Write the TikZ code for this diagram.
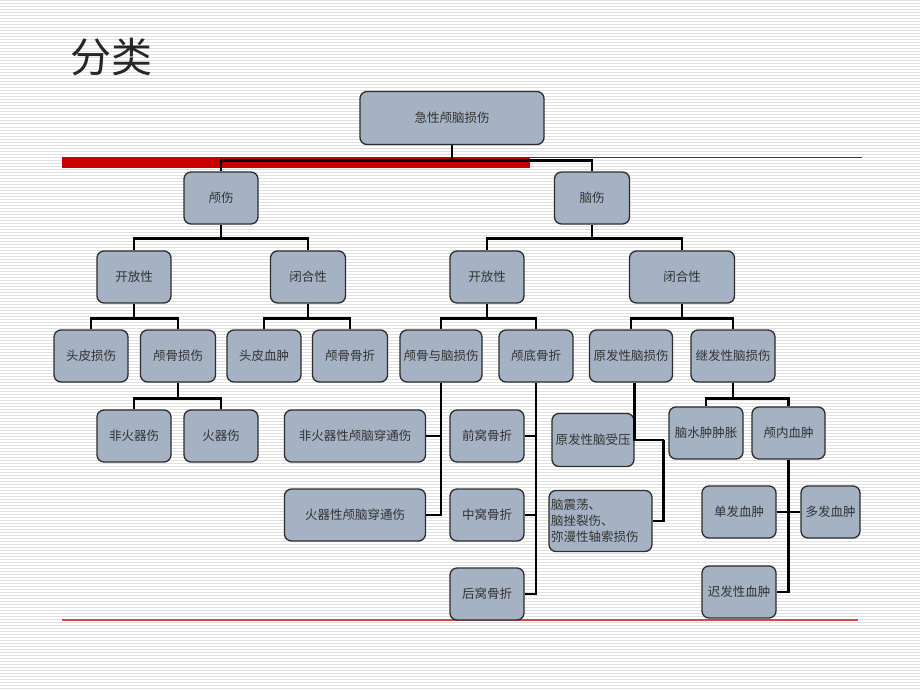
\documentclass[tikz,border=0pt]{standalone}
\usepackage{fontspec}
\newfontfamily\cjk{Noto Sans CJK SC}
\usetikzlibrary{positioning}
\definecolor{boxfill}{RGB}{164,178,196}
\definecolor{boxline}{RGB}{45,45,45}
\definecolor{slidered}{RGB}{200,0,0}
\definecolor{rulered}{RGB}{205,75,75}

\begin{document}
\begin{tikzpicture}[
  x=1pt, y=-1pt,
  box/.style={draw=boxline, line width=1.3pt, fill=boxfill, rounded corners=7pt,
    minimum width=74pt, minimum height=52pt, inner sep=1pt,
    text=black!80, font=\cjk\fontsize{12.5}{15}\selectfont},
  link/.style={line width=2.7pt, black},
  stripe/.style={line width=1pt, black!12}]

  % slide background
  \useasboundingbox (0,0) rectangle (920,690);
  \fill[white] (0,0) rectangle (920,690);
  \foreach \y in {1,4,...,689}
    \draw[stripe] (0,\y) -- (920,\y);

  \node[font=\cjk\fontsize{41}{45}\selectfont, text=black!85] (title) at (111,57) {分类};

  \fill[slidered] (62,157) rectangle (530,168);
  \draw[slidered, line width=1pt] (62,157.5) -- (862,157.5);
  \draw[rulered, line width=1.6pt] (62,620) -- (858,620);

  % level 0 and 1
  \node[box, minimum width=184pt, minimum height=53pt] (root) at (452,118) {急性颅脑损伤};
  \node[box] (lu) at (221,198) {颅伤};
  \node[box, minimum width=75pt] (ns) at (592,198) {脑伤};

  % skull branch
  \node[box] (ko1) at (134,277) {开放性};
  \node[box, minimum width=75pt] (bh1) at (308,277) {闭合性};
  \node[box] (tp) at (91,356) {头皮损伤};
  \node[box, minimum width=75pt] (lg) at (178,356) {颅骨损伤};
  \node[box] (tx) at (264,356) {头皮血肿};
  \node[box, minimum width=75pt] (gz) at (350,356) {颅骨骨折};
  \node[box] (fhq) at (134,436) {非火器伤};
  \node[box] (hq) at (221,436) {火器伤};

  % brain branch
  \node[box] (ko2) at (487,277) {开放性};
  \node[box, minimum width=105pt] (bh2) at (682,277) {闭合性};
  \node[box, minimum width=82pt] (lgn) at (441,356) {颅骨与脑损伤};
  \node[box] (ld) at (536,356) {颅底骨折};
  \node[box, minimum width=141pt] (fct) at (355,436) {非火器性颅脑穿通伤};
  \node[box, minimum width=141pt] (hct) at (355,515) {火器性颅脑穿通伤};
  \node[box] (qw) at (487,436) {前窝骨折};
  \node[box] (zw) at (487,515) {中窝骨折};
  \node[box] (hw) at (487,594) {后窝骨折};
  \node[box, minimum width=83pt] (yf) at (631,356) {原发性脑损伤};
  \node[box, minimum width=84pt] (jf) at (733,356) {继发性脑损伤};
  \node[box, minimum width=82pt, minimum height=53pt] (ys) at (593,440) {原发性脑受压};
  \node[box, minimum width=103pt, minimum height=61pt, text width=99pt, align=left,
    font=\cjk\fontsize{12.5}{16}\selectfont] (zd) at (600.5,521) {脑震荡、\\脑挫裂伤、\\弥漫性轴索损伤};
  \node[box] (ssz) at (706,433) {脑水肿肿胀};
  \node[box, minimum width=73pt] (xz) at (788.5,433) {颅内血肿};
  \node[box] (df) at (739,512) {单发血肿};
  \node[box, minimum width=59pt] (dd) at (830.5,512) {多发血肿};
  \node[box] (cf) at (739,592) {迟发性血肿};

  % connectors
  \draw[link] (root.south) -- ++(0,15.5) coordinate (b0);
  \draw[link] (lu.north) |- (b0) -| (ns.north);
  \draw[link] (lu.south) -- ++(0,14) coordinate (b1);
  \draw[link] (ko1.north) |- (b1) -| (bh1.north);
  \draw[link] (ko1.south) -- ++(0,15) coordinate (b2);
  \draw[link] (tp.north) |- (b2) -| (lg.north);
  \draw[link] (bh1.south) -- ++(0,15) coordinate (b3);
  \draw[link] (tx.north) |- (b3) -| (gz.north);
  \draw[link] (lg.south) -- ++(0,16) coordinate (b4);
  \draw[link] (fhq.north) |- (b4) -| (hq.north);

  \draw[link] (ns.south) -- ++(0,14) coordinate (b5);
  \draw[link] (ko2.north) |- (b5) -| (bh2.north);
  \draw[link] (ko2.south) -- ++(0,15) coordinate (b6);
  \draw[link] (lgn.north) |- (b6) -| (ld.north);
  \draw[link] (bh2.south) -- ++(0,15) coordinate (b7);
  \draw[link] (yf.north) |- (b7) -| (jf.north);
  \draw[link] (jf.south) -- ++(0,16) coordinate (b8);
  \draw[link] (ssz.north) |- (b8) -| (xz.north);

  \draw[link] (lgn.south) |- (hct.east);
  \draw[link] (fct.east) -- (fct.east -| lgn.south);
  \draw[link] (ld.south) |- (hw.east);
  \draw[link] (qw.east) -- (qw.east -| ld.south);
  \draw[link] (zw.east) -- (zw.east -| ld.south);
  \draw[link] (ys.east |- yf.south) -- (ys.east) -- ++(29,0) coordinate (b9);
  \draw[link] (b9) |- (zd.east);
  \draw[link] (xz.south) |- (cf.east);
  \draw[link] (df.east) -- (dd.west);
\end{tikzpicture}
\end{document}
